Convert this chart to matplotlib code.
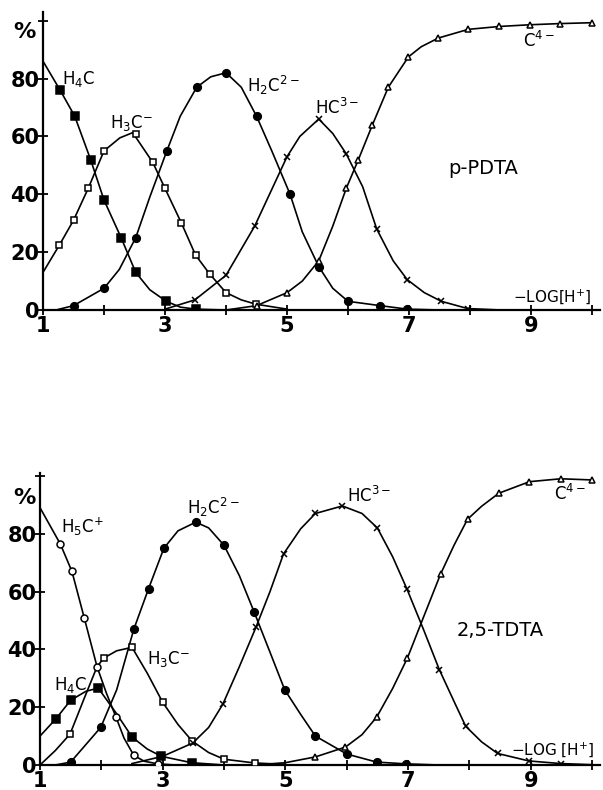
import matplotlib
matplotlib.use('Agg')
import matplotlib.pyplot as plt

plt.rcParams['font.family'] = ['DejaVu Sans']
plt.rcParams['mathtext.fontset'] = 'dejavusans'

# ---- p-PDTA (top) : curve points and marker points ----
p_h4c_cx = [1.0, 1.28, 1.52, 1.78, 2.0, 2.28, 2.52, 2.75, 3.02, 3.25, 3.5, 4.0]
p_h4c_cy = [86, 76, 67, 52, 38, 25, 13, 7, 3, 1, 0.3, 0]
p_h4c_mx = [1.28, 1.52, 1.78, 2.0, 2.28, 2.52, 3.02, 3.5]
p_h4c_my = [76, 67, 52, 38, 25, 13, 3, 0.5]

p_h3c_cx = [1.0, 1.27, 1.5, 1.74, 2.0, 2.26, 2.47, 2.64, 2.8, 3.0, 3.27, 3.5, 3.73, 4.0, 4.25, 4.49, 5.0]
p_h3c_cy = [13, 22.5, 31, 42, 55, 59.5, 61.3, 56, 51, 42, 30, 19, 12.5, 6, 3.5, 2, 0.3]
p_h3c_mx = [1.27, 1.5, 1.74, 2.0, 2.52, 2.8, 3.0, 3.27, 3.5, 3.73, 4.0, 4.49]
p_h3c_my = [22.5, 31, 42, 55, 61, 51, 42, 30, 19, 12.5, 6, 2]

p_h2c_cx = [1.25, 1.5, 2.0, 2.25, 2.52, 2.75, 3.03, 3.25, 3.52, 3.75, 4.0, 4.25, 4.5, 4.75,
            5.05, 5.25, 5.52, 5.75, 6.0, 6.53, 6.97, 7.5]
p_h2c_cy = [0.2, 1.5, 7.5, 14, 25, 39, 55, 67, 77, 80.6, 82, 77, 67, 55,
            40, 27, 15, 7.5, 3, 1.5, 0.3, 0]
p_h2c_mx = [1.5, 2.0, 2.52, 3.03, 3.52, 4.0, 4.5, 5.05, 5.52, 6.0, 6.53, 6.97]
p_h2c_my = [1.5, 7.5, 25, 55, 77, 82, 67, 40, 15, 3, 1.5, 0.3]

p_hc_cx = [3.0, 3.49, 4.0, 4.47, 5.0, 5.21, 5.52, 5.75, 5.97, 6.24, 6.47, 6.74, 6.97, 7.25, 7.53, 7.96, 8.5]
p_hc_cy = [0.3, 3.5, 12, 29, 53, 60, 66, 61, 54, 42.6, 28, 17, 10.5, 6, 3, 0.5, 0]
p_hc_mx = [3.49, 4.0, 4.47, 5.0, 5.52, 5.97, 6.47, 6.97, 7.53, 7.96]
p_hc_my = [3.5, 12, 29, 53, 66, 54, 28, 10.5, 3, 0.5]

p_c_cx = [4.0, 4.5, 5.0, 5.25, 5.52, 5.75, 5.97, 6.17, 6.4, 6.66, 6.99, 7.2, 7.48, 7.97, 8.48, 8.99, 9.48, 10.0]
p_c_cy = [0, 1.5, 6, 10, 17, 29, 42, 52, 64, 77, 87.5, 91, 94, 97, 98, 98.6, 99, 99.3]
p_c_mx = [4.5, 5.0, 5.52, 5.97, 6.17, 6.4, 6.66, 6.99, 7.48, 7.97, 8.48, 8.99, 9.48, 10.0]
p_c_my = [1.5, 6, 17, 42, 52, 64, 77, 87.5, 94, 97, 98, 98.6, 99, 99.3]

# ---- 2,5-TDTA (bottom) ----
t_h5c_cx = [1.0, 1.33, 1.52, 1.72, 1.93, 2.08, 2.24, 2.37, 2.53, 2.7, 2.92, 3.2]
t_h5c_cy = [89, 76.5, 67, 51, 34, 25, 16.5, 9.3, 3.3, 1.3, 0.4, 0]
t_h5c_mx = [1.33, 1.52, 1.72, 1.93, 2.24, 2.53, 2.92]
t_h5c_my = [76.5, 67, 51, 34, 16.5, 3.3, 0.5]

t_h4c_cx = [1.0, 1.26, 1.5, 1.75, 1.95, 2.24, 2.5, 2.75, 2.98, 3.47, 4.0]
t_h4c_cy = [10, 16, 22.4, 25.5, 26.6, 18, 9.7, 5.5, 3, 0.8, 0]
t_h4c_mx = [1.26, 1.5, 1.95, 2.5, 2.98, 3.47]
t_h4c_my = [16, 22.4, 26.6, 9.7, 3, 0.8]

t_h3c_cx = [1.0, 1.25, 1.49, 1.72, 1.93, 2.04, 2.25, 2.5, 2.75, 3.0, 3.25, 3.48, 3.75, 4.0, 4.5, 5.0]
t_h3c_cy = [0, 5, 10.7, 23, 34, 37, 39.5, 40.7, 31.7, 21.7, 14, 8.3, 4.3, 2, 0.7, 0.2]
t_h3c_mx = [1.49, 2.04, 2.5, 3.0, 3.48, 4.0, 4.5]
t_h3c_my = [10.7, 37, 40.7, 21.7, 8.3, 2, 0.7]

t_h2c_cx = [1.25, 1.5, 1.99, 2.25, 2.53, 2.77, 3.02, 3.25, 3.54, 3.75, 4.0, 4.25, 4.49, 4.75,
            4.99, 5.25, 5.49, 6.0, 6.49, 6.96, 7.5]
t_h2c_cy = [0, 1, 13, 26, 47, 61, 75, 81, 84, 82, 76, 65.5, 53, 39,
            26, 17.5, 10, 3.8, 1, 0.4, 0]
t_h2c_mx = [1.5, 1.99, 2.53, 2.77, 3.02, 3.54, 4.0, 4.49, 4.99, 5.49, 6.0, 6.49, 6.96]
t_h2c_my = [1, 13, 47, 61, 75, 84, 76, 53, 26, 10, 3.8, 1, 0.4]

t_hc_cx = [2.5, 3.0, 3.49, 3.75, 3.98, 4.25, 4.52, 4.75, 4.97, 5.25, 5.49, 5.93, 6.25, 6.5,
           6.75, 6.98, 7.25, 7.51, 7.75, 7.94, 8.2, 8.46, 8.97, 9.49, 10.0]
t_hc_cy = [0.5, 3, 7.6, 13, 21, 34, 47.6, 60, 73, 81.7, 87, 89.6, 87, 82,
           72, 61, 47, 33, 22, 13.4, 8, 4, 1.4, 0.5, 0.1]
t_hc_mx = [3.49, 3.98, 4.52, 4.97, 5.49, 5.93, 6.5, 6.98, 7.51, 7.94, 8.46, 8.97, 9.49]
t_hc_my = [7.6, 21, 47.6, 73, 87, 89.6, 82, 61, 33, 13.4, 4, 1.4, 0.5]

t_c_cx = [4.5, 5.0, 5.49, 5.98, 6.25, 6.49, 6.75, 6.99, 7.25, 7.53, 7.75, 7.97, 8.2, 8.48, 8.98, 9.49, 10.0]
t_c_cy = [0, 0.8, 2.8, 6.2, 10.5, 16.6, 26.5, 37, 51, 66, 76, 85, 89.5, 94, 98, 99, 98.6]
t_c_mx = [5.49, 5.98, 6.49, 6.99, 7.53, 7.97, 8.48, 8.98, 9.49, 10.0]
t_c_my = [2.8, 6.2, 16.6, 37, 66, 85, 94, 98, 99, 98.6]

x_ticks = list(range(1, 11))
x_labels = ['1', '', '3', '', '5', '', '7', '', '9', '']
y_ticks = [0, 20, 40, 60, 80, 100]
y_labels = ['0', '20', '40', '60', '80', '']

W, H = 603, 790
fig = plt.figure(figsize=(W / 100, H / 100), dpi=100)
ax1 = fig.add_axes([43 / W, (H - 310) / H, (600 - 43) / W, 298 / H])
ax2 = fig.add_axes([40 / W, (H - 765) / H, (600 - 40) / W, 292 / H])

ln = dict(color='black', lw=1.2, zorder=2)
mk = dict(ls='none', color='black', zorder=3)


def species(ax, cx, cy, mx, my, marker, filled, ms):
    ax.plot(cx, cy, **ln)
    ax.plot(mx, my, marker=marker, ms=ms, mew=1.1,
            mfc='black' if filled else 'white', mec='black', **mk)


species(ax1, p_h4c_cx, p_h4c_cy, p_h4c_mx, p_h4c_my, 's', True, 5.5)
species(ax1, p_h3c_cx, p_h3c_cy, p_h3c_mx, p_h3c_my, 's', False, 5)
species(ax1, p_h2c_cx, p_h2c_cy, p_h2c_mx, p_h2c_my, 'o', True, 5.5)
species(ax1, p_hc_cx, p_hc_cy, p_hc_mx, p_hc_my, 'x', True, 5)
species(ax1, p_c_cx, p_c_cy, p_c_mx, p_c_my, '^', False, 5)

species(ax2, t_h5c_cx, t_h5c_cy, t_h5c_mx, t_h5c_my, 'o', False, 5)
species(ax2, t_h4c_cx, t_h4c_cy, t_h4c_mx, t_h4c_my, 's', True, 5.5)
species(ax2, t_h3c_cx, t_h3c_cy, t_h3c_mx, t_h3c_my, 's', False, 5)
species(ax2, t_h2c_cx, t_h2c_cy, t_h2c_mx, t_h2c_my, 'o', True, 5.5)
species(ax2, t_hc_cx, t_hc_cy, t_hc_mx, t_hc_my, 'x', True, 5)
species(ax2, t_c_cx, t_c_cy, t_c_mx, t_c_my, '^', False, 5)

for ax, ytop in ((ax1, 103), (ax2, 101)):
    ax.set_xlim(1, 10.13)
    ax.set_ylim(0, ytop)
    for s in ('top', 'right'):
        ax.spines[s].set_visible(False)
    for s in ('left', 'bottom'):
        ax.spines[s].set_linewidth(1.6)
    ax.set_xticks(x_ticks)
    ax.set_xticklabels(x_labels)
    ax.set_yticks(y_ticks)
    ax.set_yticklabels(y_labels)
    ax.tick_params(direction='inout', length=7, width=1.3, labelsize=15, pad=1)
    ax.tick_params(axis='y', pad=-1)
    for lab in ax.get_xticklabels() + ax.get_yticklabels():
        lab.set_fontweight('bold')

lab = dict(fontsize=12, va='center', ha='left')
# top labels
ax1.text(0.69, 96, '%', fontsize=16, fontweight='bold', ha='center', va='center', clip_on=False)
ax1.text(1.31, 80, r'H$_4$C', **lab)
ax1.text(2.1, 64.7, r'H$_3$C$^{-}$', **lab)
ax1.text(4.34, 77.5, r'H$_2$C$^{2-}$', **lab)
ax1.text(5.46, 70, r'HC$^{3-}$', **lab)
ax1.text(8.87, 93, r'C$^{4-}$', **lab)
ax1.text(7.64, 49, 'p-PDTA', fontsize=14, va='center', ha='left')
ax1.text(8.7, 4.5, r'$-$LOG[H$^{+}$]', fontsize=11, va='center', ha='left')

# bottom labels
ax2.text(0.74, 92.4, '%', fontsize=16, fontweight='bold', ha='center', va='center', clip_on=False)
ax2.text(1.34, 82.4, r'H$_5$C$^{+}$', **lab)
ax2.text(1.23, 27.6, r'H$_4$C', **lab)
ax2.text(2.75, 36.6, r'H$_3$C$^{-}$', **lab)
ax2.text(3.4, 89, r'H$_2$C$^{2-}$', **lab)
ax2.text(6.0, 93, r'HC$^{3-}$', **lab)
ax2.text(9.38, 93.8, r'C$^{4-}$', **lab)
ax2.text(7.79, 46.5, '2,5-TDTA', fontsize=14, va='center', ha='left')
ax2.text(8.68, 5.2, r'$-$LOG [H$^{+}$]', fontsize=11, va='center', ha='left')

fig.savefig('out.png', dpi=100)
